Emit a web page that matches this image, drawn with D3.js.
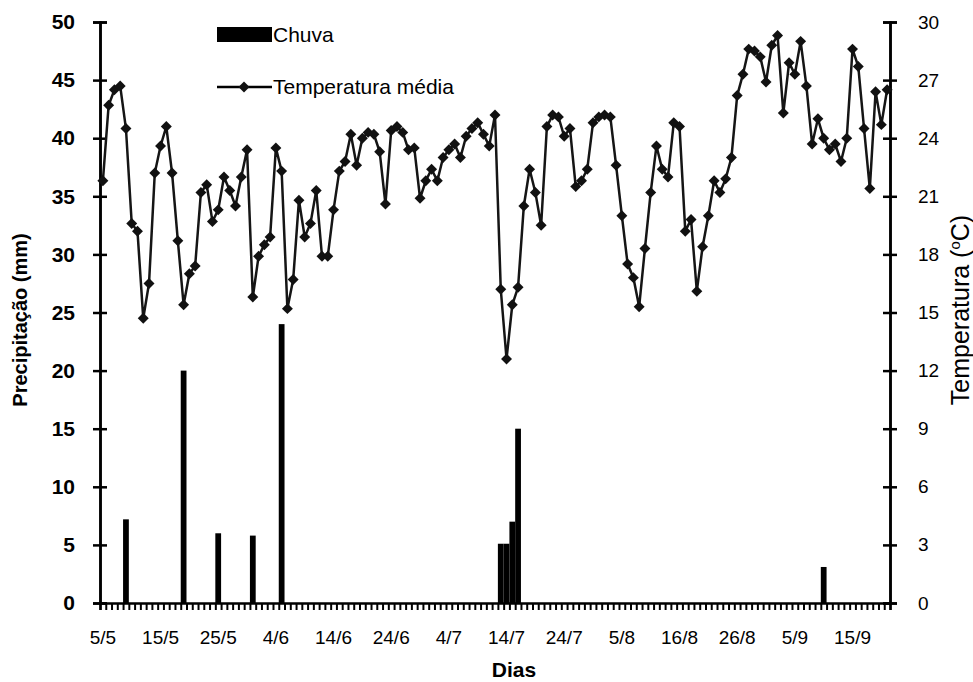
<!DOCTYPE html>
<html>
<head>
<meta charset="utf-8">
<script src="https://cdn.jsdelivr.net/npm/d3@7"></script>
<style>
  body { margin: 0; background: #fff; }
  text { font-family: "Liberation Sans", Arial, sans-serif; fill: #000; }
</style>
</head>
<body>
<div id="chart"></div>
<script>
'use strict';

// daily mean temperature (ºC), one value per category, from 5/5 onwards
var temperature = [
  21.8, 25.7, 26.5, 26.7, 24.5, 19.6, 19.2, 14.7, 16.5, 22.2,
  23.6, 24.6, 22.2, 18.7, 15.4, 17.0, 17.4, 21.2, 21.6, 19.7,
  20.3, 22.0, 21.3, 20.5, 22.0, 23.4, 15.8, 17.9, 18.5, 18.9,
  23.5, 22.3, 15.2, 16.7, 20.8, 18.9, 19.6, 21.3, 17.9, 17.9,
  20.3, 22.3, 22.8, 24.2, 22.6, 24.0, 24.3, 24.2, 23.3, 20.6,
  24.4, 24.6, 24.3, 23.4, 23.5, 20.9, 21.8, 22.4, 21.8, 23.0,
  23.4, 23.7, 23.0, 24.1, 24.5, 24.8, 24.2, 23.6, 25.2, 16.2,
  12.6, 15.4, 16.3, 20.5, 22.4, 21.2, 19.5, 24.6, 25.2, 25.1,
  24.1, 24.5, 21.5, 21.8, 22.4, 24.8, 25.1, 25.2, 25.1, 22.6,
  20.0, 17.5, 16.8, 15.3, 18.3, 21.2, 23.6, 22.4, 22.0, 24.8,
  24.6, 19.2, 19.8, 16.1, 18.4, 20.0, 21.8, 21.2, 21.9, 23.0,
  26.2, 27.3, 28.6, 28.5, 28.2, 26.9, 28.8, 29.3, 25.3, 27.9,
  27.3, 29.0, 26.7, 23.7, 25.0, 24.0, 23.4, 23.7, 22.8, 24.0,
  28.6, 27.7, 24.5, 21.4, 26.4, 24.7, 26.5
];

// rain (mm): category index of each rainy day and its amount
var rainDay = [4, 14, 20, 26, 31, 69, 70, 71, 72, 125];
var rainMm = [7.2, 20, 6, 5.8, 24, 5.1, 5.1, 7, 15, 3.1];

// one label every 10 categories
var tickLabels = ['5/5', '15/5', '25/5', '4/6', '14/6', '24/6', '4/7',
  '14/7', '24/7', '5/8', '16/8', '26/8', '5/9', '15/9'];
var labelEvery = 10;

var precTicks = [0, 5, 10, 15, 20, 25, 30, 35, 40, 45, 50];
var tempTicks = [0, 3, 6, 9, 12, 15, 18, 21, 24, 27, 30];

var W = 973, H = 682;
var margin = {left: 100, right: 890, top: 22, bottom: 603};
var n = temperature.length;

var svg = d3.select('#chart').append('svg')
  .attr('width', W)
  .attr('height', H);

var x = d3.scaleBand()
  .domain(d3.range(n))
  .range([margin.left, margin.right])
  .padding(0);

var xEdge = d3.scaleLinear()
  .domain([0, n])
  .range([margin.left, margin.right]);

var yL = d3.scaleLinear().domain([0, 50]).range([margin.bottom, margin.top]);
var yR = d3.scaleLinear().domain([0, 30]).range([margin.bottom, margin.top]);

var rain = rainDay.map(function(d, i) { return {day: d, mm: rainMm[i]}; });

// bars
svg.append('g').selectAll('rect')
  .data(rain)
  .enter().append('rect')
  .attr('x', function(d) { return x(d.day); })
  .attr('width', x.bandwidth())
  .attr('y', function(d) { return yL(d.mm); })
  .attr('height', function(d) { return yL(0) - yL(d.mm); })
  .attr('fill', '#000');

// axes
var styleAxis = function(g) {
  g.select('.domain').attr('stroke', '#000').attr('stroke-width', 2.5);
  g.selectAll('.tick line').attr('stroke', '#000').attr('stroke-width', 2.5);
};

svg.append('g')
  .attr('transform', 'translate(' + margin.left + ',0)')
  .call(d3.axisLeft(yL).tickValues(precTicks).tickSize(7).tickPadding(18))
  .call(styleAxis)
  .call(function(g) {
    g.selectAll('text').style('font-size', '21px').style('font-weight', 'bold');
  });
svg.append('g')
  .attr('transform', 'translate(' + margin.left + ',0)')
  .call(d3.axisRight(yL).tickValues(precTicks).tickSize(7).tickFormat(''))
  .call(styleAxis);

svg.append('g')
  .attr('transform', 'translate(' + margin.right + ',0)')
  .call(d3.axisRight(yR).tickValues(tempTicks).tickSize(7).tickPadding(21))
  .call(styleAxis)
  .call(function(g) {
    g.selectAll('text').style('font-size', '19px');
  });
svg.append('g')
  .attr('transform', 'translate(' + margin.right + ',0)')
  .call(d3.axisLeft(yR).tickValues(tempTicks).tickSize(7).tickFormat(''))
  .call(styleAxis);

svg.append('g')
  .attr('transform', 'translate(0,' + margin.bottom + ')')
  .call(d3.axisBottom(xEdge).tickValues(d3.range(n + 1)).tickSize(7).tickFormat(''))
  .call(styleAxis)
  .call(function(g) { g.selectAll('.tick line').attr('stroke-width', 2); });

svg.append('g')
  .attr('transform', 'translate(0,' + margin.bottom + ')')
  .call(d3.axisBottom(x)
    .tickValues(d3.range(0, n, labelEvery))
    .tickSize(0)
    .tickPadding(28)
    .tickFormat(function(d) { return tickLabels[d / labelEvery]; }))
  .call(function(g) {
    g.select('.domain').remove();
    g.selectAll('text').style('font-size', '19px');
  });

// temperature line
var line = d3.line()
  .x(function(d, i) { return x(i) + x.bandwidth() / 2; })
  .y(function(d) { return yR(d); });

svg.append('path')
  .datum(temperature)
  .attr('d', line)
  .attr('fill', 'none')
  .attr('stroke', '#151515')
  .attr('stroke-width', 2.5);

var diamond = d3.symbol().type(d3.symbolSquare).size(60);

svg.append('g').selectAll('path')
  .data(temperature)
  .enter().append('path')
  .attr('d', diamond)
  .attr('transform', function(d, i) {
    return 'translate(' + (x(i) + x.bandwidth() / 2) + ',' + yR(d) + ') rotate(45)';
  })
  .attr('fill', '#111');

// axis titles
svg.append('text')
  .attr('transform', 'translate(27,320) rotate(-90)')
  .attr('text-anchor', 'middle')
  .style('font-size', '20px')
  .style('font-weight', 'bold')
  .text('Precipitação (mm)');

var rt = svg.append('text')
  .attr('transform', 'translate(969,310) rotate(-90)')
  .attr('text-anchor', 'middle')
  .style('font-size', '25px');
rt.append('tspan').text('Temperatura (');
rt.append('tspan').attr('dy', -9).style('font-size', '15px').text('o');
rt.append('tspan').attr('dy', 9).text('C)');

svg.append('text')
  .attr('x', 514)
  .attr('y', 677)
  .attr('text-anchor', 'middle')
  .style('font-size', '21px')
  .style('font-weight', 'bold')
  .text('Dias');

// legend
var legend = svg.append('g');
legend.append('rect')
  .attr('x', 217).attr('y', 27)
  .attr('width', 55).attr('height', 15)
  .attr('fill', '#000');
legend.append('text')
  .attr('x', 273).attr('y', 42)
  .style('font-size', '21px')
  .text('Chuva');
legend.append('line')
  .attr('x1', 217).attr('x2', 272)
  .attr('y1', 87).attr('y2', 87)
  .attr('stroke', '#000').attr('stroke-width', 2.5);
legend.append('path')
  .attr('d', diamond)
  .attr('transform', 'translate(244,87) rotate(45)')
  .attr('fill', '#111');
legend.append('text')
  .attr('x', 273).attr('y', 94)
  .style('font-size', '21px')
  .text('Temperatura média');
</script>
</body>
</html>
